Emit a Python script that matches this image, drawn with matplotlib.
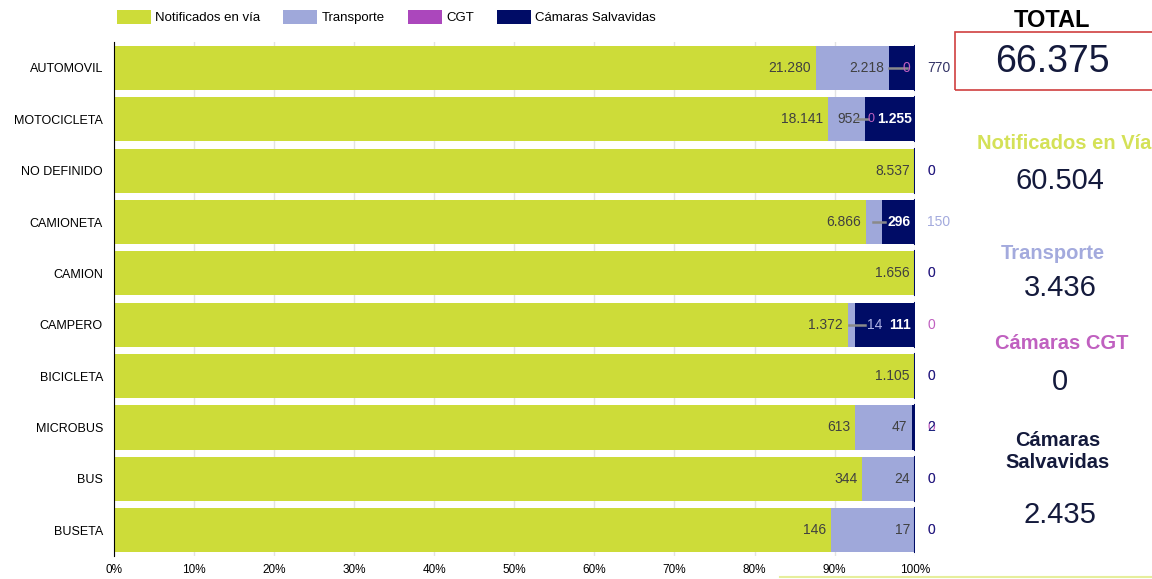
import matplotlib.pyplot as plt
import numpy as np

plt.rcParams['font.family'] = ['Liberation Sans', 'DejaVu Sans']

categorias = ['AUTOMOVIL', 'MOTOCICLETA', 'NO DEFINIDO', 'CAMIONETA', 'CAMION',
              'CAMPERO', 'BICICLETA', 'MICROBUS', 'BUS', 'BUSETA']
notificados = [21280, 18141, 8537, 6866, 1656, 1372, 1105, 613, 344, 146]
transporte = [2218, 952, 0, 150, 0, 14, 0, 47, 24, 17]
cgt = [0, 0, 0, 0, 0, 0, 0, 0, 0, 0]
salvavidas = [770, 1255, 0, 296, 0, 111, 0, 2, 0, 0]

series_nombres = ['Notificados en vía', 'Transporte', 'CGT', 'Cámaras Salvavidas']
colores = ['#cddc39', '#9fa8da', '#ab47bc', '#000c66']

resumen_titulos = ['Notificados en Vía', 'Transporte', 'Cámaras CGT', 'Cámaras\nSalvavidas']
resumen_valores = ['60.504', '3.436', '0', '2.435']
total = '66.375'


def fmt(v):
    return f'{v:,}'.replace(',', '.')


datos = np.array([notificados, transporte, cgt, salvavidas], dtype=float)
totales = datos.sum(axis=0)
pct = datos / totales

fig = plt.figure(figsize=(11.52, 5.79), dpi=100)
ax = fig.add_axes([0.099, 0.04, 0.695, 0.887])

y = np.arange(len(categorias))
izq = np.zeros(len(categorias))
for i in range(4):
    ax.barh(y, pct[i], left=izq, height=0.86, color=colores[i], label=series_nombres[i], zorder=2)
    izq += pct[i]

fs = 10
gris = '#404040'
magenta = '#c060c0'
linea = '#8a8a8a'
for j in range(len(categorias)):
    fin_verde = pct[0, j]
    fin_trans = fin_verde + pct[1, j]
    ax.text(fin_verde - 0.006, j, fmt(notificados[j]), ha='right', va='center',
            fontsize=fs, color=gris, zorder=3)
    if pct[1, j] > 0.03:
        ax.text(fin_trans - 0.006, j, fmt(transporte[j]), ha='right', va='center',
                fontsize=fs, color=gris, zorder=3)
    if categorias[j] == 'AUTOMOVIL':
        ax.plot([fin_trans, 0.99], [j, j], color=linea, lw=1.8, zorder=3)
        ax.text(0.99, j, fmt(cgt[j]), ha='center', va='center', fontsize=fs,
                color=magenta, zorder=3)
        ax.text(1.016, j, fmt(salvavidas[j]), ha='left', va='center', fontsize=fs,
                color='#333366', clip_on=False, zorder=3)
    elif categorias[j] == 'MOTOCICLETA':
        ax.plot([fin_trans - 0.012, fin_trans + 0.003], [j, j], color=linea, lw=1.8, zorder=3)
        ax.text(fin_trans + 0.003, j, fmt(cgt[j]), ha='left', va='center', fontsize=fs - 1,
                color=magenta, zorder=3)
        ax.text(0.997, j, fmt(salvavidas[j]), ha='right', va='center',
                fontsize=fs, color='white', fontweight='bold', zorder=3)
    elif categorias[j] == 'CAMIONETA':
        ax.plot([fin_trans - 0.012, fin_trans + 0.004], [j, j], color=linea, lw=1.8, zorder=3)
        ax.text(0.995, j, fmt(salvavidas[j]), ha='right', va='center',
                fontsize=fs, color='white', fontweight='bold', zorder=3)
        ax.text(1.016, j, fmt(transporte[j]), ha='left', va='center', fontsize=fs,
                color='#a3aadd', clip_on=False, zorder=3)
    elif salvavidas[j] > 100:
        ax.text(0.995, j, fmt(salvavidas[j]), ha='right', va='center',
                fontsize=fs, color='white', fontweight='bold', zorder=3)
        ax.plot([fin_trans - 0.008, fin_trans + 0.012], [j, j], color=linea, lw=1.8, zorder=3)
        ax.text(fin_trans + 0.014, j, fmt(transporte[j]), ha='left', va='center',
                fontsize=fs, color='#b0b4e6', zorder=3)
        ax.text(1.016, j, fmt(cgt[j]), ha='left', va='center', fontsize=fs,
                color=magenta, clip_on=False, zorder=3)
    else:
        ax.text(1.016, j, fmt(cgt[j]), ha='left', va='center', fontsize=fs,
                color=magenta, clip_on=False, zorder=3)
        ax.text(1.016, j, fmt(salvavidas[j]), ha='left', va='center', fontsize=fs,
                color='#1a237e', clip_on=False, zorder=3)
    # borde oscuro al final de la barra
    ax.plot([1.0, 1.0], [j - 0.43, j + 0.43], color='#000c66', lw=1.5, zorder=3)

ax.set_xlim(0, 1)
ax.set_ylim(len(categorias) - 0.5, -0.5)
ax.set_yticks(y)
ax.set_yticklabels(categorias, fontsize=9)
ax.set_xticks(np.linspace(0, 1, 11))
ax.set_xticklabels([f'{int(t)}%' for t in np.linspace(0, 100, 11)], fontsize=8.5)
ax.tick_params(length=0, pad=6)
ax.tick_params(axis='y', pad=8)
ax.grid(axis='x', color='#e3e3e3', lw=1, zorder=0)
for s in ['top', 'right', 'bottom']:
    ax.spines[s].set_visible(False)
ax.spines['left'].set_color('black')
ax.spines['left'].set_zorder(4)

fig.legend(loc='upper left', bbox_to_anchor=(0.091, 1.003), ncol=4, frameon=False,
           fontsize=9.5, handlelength=2.6, handleheight=1.2, columnspacing=1.75,
           handletextpad=0.3)

# panel derecho con totales
fig.text(0.913, 0.965, 'TOTAL', ha='center', va='center', fontsize=17,
         fontweight='bold', color='black')
caja = plt.Rectangle((0.829, 0.845), 0.175, 0.1, transform=fig.transFigure,
                     fill=False, edgecolor='#d04040', lw=1.2)
fig.add_artist(caja)
fig.text(0.914, 0.893, total, ha='center', va='center', fontsize=27, color='#141a3c')

xs_titulo = [0.924, 0.914, 0.922, 0.918]
ys_titulo = [0.752, 0.562, 0.406, 0.22]
ys_valor = [0.687, 0.502, 0.340, 0.11]
colores_titulo = ['#d4e157', '#a3aadd', magenta, '#141a3c']
for t, v, c, xt, yt, yv in zip(resumen_titulos, resumen_valores, colores_titulo,
                               xs_titulo, ys_titulo, ys_valor):
    fig.text(xt, yt, t, ha='center', va='center', fontsize=14.5,
             fontweight='bold', color=c, linespacing=1.25)
    fig.text(0.92, yv, v, ha='center', va='center', fontsize=21, color='#141a3c')

fig.add_artist(plt.Line2D([0.677, 1.0], [0.004, 0.004], transform=fig.transFigure,
                          color='#e6ee9c', lw=1.5))

fig.savefig('out.png', dpi=100)
